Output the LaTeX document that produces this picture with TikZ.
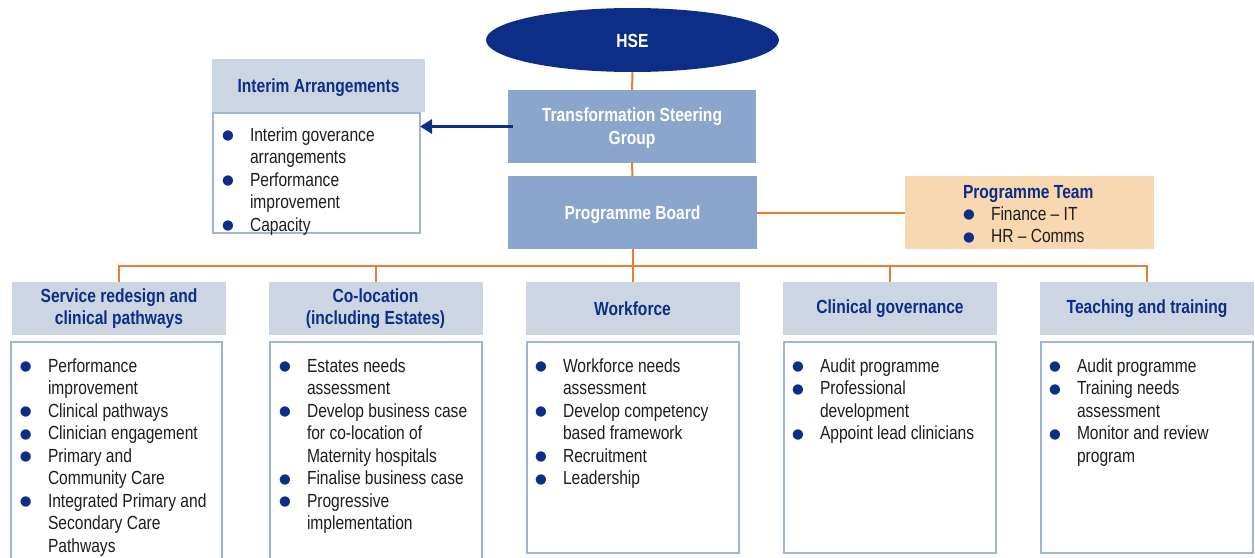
\documentclass[tikz,border=0pt]{standalone}
\usepackage{fontspec}
\setmainfont{Liberation Sans}[FakeStretch=0.82]
\newfontfamily\symf{DejaVu Sans}
\usetikzlibrary{arrows.meta,shapes.geometric}
\definecolor{navy}{RGB}{12,46,135}
\definecolor{hdrfill}{RGB}{204,214,227}
\definecolor{midblue}{RGB}{138,166,204}
\definecolor{peach}{RGB}{248,216,176}
\definecolor{bordblue}{RGB}{160,182,216}
\definecolor{orng}{RGB}{237,125,49}
\definecolor{txt}{RGB}{30,30,30}
\newcommand\bul{\makebox[26pt][l]{\hspace*{-2pt}\textcolor{navy}{\raisebox{1.5pt}{\symf\fontsize{13.5}{13.5}\selectfont ●}}}}
\tikzset{
  base/.style={font=\fontsize{19}{22.5}\selectfont, inner sep=0pt, outer sep=0pt},
  hdr/.style={base, rectangle, fill=hdrfill, minimum width=214pt, minimum height=53pt, text=navy, font=\fontsize{19}{22.5}\selectfont\bfseries, align=center},
  darkbox/.style={base, rectangle, fill=midblue, minimum width=249pt, minimum height=73pt},
  wtext/.style={base, text=white, font=\fontsize{19}{22.5}\selectfont\bfseries, align=center},
  listbox/.style={base, rectangle, draw=bordblue, line width=1.5pt, fill=white},
  lst/.style={base, anchor=base west, text=txt},
  con/.style={draw=orng, line width=2pt},
}
\begin{document}
\begin{tikzpicture}[x=1pt,y=-1pt]
\useasboundingbox (0,0) rectangle (1255,557);
\clip (0,0) rectangle (1255,557);
% top part
\node[base, ellipse, fill=navy, minimum width=293pt, minimum height=64pt] (hse) at (632.5,40) {};
\node[wtext] (hset) at (632.5,41) {HSE};
\node[hdr, minimum width=213pt] (ihdr) at (318.5,85.5) {};
\node[base, text=navy, font=\fontsize{19}{22.5}\selectfont\bfseries] (ihdrt) at (318.5,87.5) {Interim Arrangements};
\node[listbox, minimum width=207pt, minimum height=120pt] (ibox) at (316.5,173) {};
\node[darkbox, minimum width=248pt] (tsg) at (632,126.5) {};
\node[wtext] (tsgt) at (632,128) {Transformation Steering\\Group};
\node[darkbox] (pb) at (632.5,212.5) {};
\node[wtext] (pbt) at (632.5,214.5) {Programme Board};
\node[base, rectangle, fill=peach, minimum width=249pt, minimum height=73pt] (team) at (1029.5,212.5) {};
% headers
\node[hdr] (h1) at (119,308.5) {Service redesign and\\clinical pathways};
\node[hdr] (h2) at (375.5,308.5) {Co-location\\(including Estates)};
\node[hdr] (h3) at (632.5,308.5) {Workforce};
\node[hdr] (h4) at (890,308.5) {Clinical governance};
\node[hdr] (h5) at (1147,308.5) {Teaching and training};
% list boxes
\node[listbox, minimum width=211pt, minimum height=223pt] (b1) at (116.5,453.5) {};
\node[listbox, minimum width=212pt, minimum height=223pt] (b2) at (376,453.5) {};
\node[listbox, minimum width=212pt, minimum height=211pt] (b3) at (633,447.5) {};
\node[listbox, minimum width=212pt, minimum height=211pt] (b4) at (890,447.5) {};
\node[listbox, minimum width=212pt, minimum height=211pt] (b5) at (1147,447.5) {};
% connectors
\coordinate (bus) at (0,266);
\draw[con] (hse.south) -- (tsg.north);
\draw[con] (tsg.south) -- (pb.north);
\draw[con] (pb.east) -- (team.west);
\draw[con] (pb.south) -- (pb.south |- bus);
\draw[con] (h1.north) -- (h1.north |- bus) -- (h5.north |- bus) -- (h5.north);
\draw[con] (h2.north) -- (h2.north |- bus);
\draw[con] (h3.north) -- (h3.north |- bus);
\draw[con] (h4.north) -- (h4.north |- bus);
\draw[draw=navy, line width=3pt, -{Triangle[length=12pt,width=14pt]}] ([xshift=5pt]tsg.west) -- (ibox.east |- tsg.west);
% texts
\node[lst] (it) at (224,141) {\begin{tabular}[t]{@{}l@{}l@{}}
\bul & Interim goverance\\ & arrangements\\ \bul & Performance\\ & improvement\\ \bul & Capacity
\end{tabular}};
\node[lst, text=navy, font=\fontsize{19}{22.5}\selectfont\bfseries] (tt) at (963,198) {Programme Team};
\node[lst] (tl) at (965,220) {\begin{tabular}[t]{@{}l@{}l@{}}
\bul & Finance -- IT\\ \bul & HR -- Comms
\end{tabular}};
\node[lst] (l1) at (22,372) {\begin{tabular}[t]{@{}l@{}l@{}}
\bul & Performance\\ & improvement\\ \bul & Clinical pathways\\ \bul & Clinician engagement\\
\bul & Primary and\\ & Community Care\\ \bul & Integrated Primary and\\ & Secondary Care\\ & Pathways
\end{tabular}};
\node[lst] (l2) at (281,372) {\begin{tabular}[t]{@{}l@{}l@{}}
\bul & Estates needs\\ & assessment\\ \bul & Develop business case\\ & for co-location of\\ & Maternity hospitals\\
\bul & Finalise business case\\ \bul & Progressive\\ & implementation
\end{tabular}};
\node[lst] (l3) at (537,372) {\begin{tabular}[t]{@{}l@{}l@{}}
\bul & Workforce needs\\ & assessment\\ \bul & Develop competency\\ & based framework\\ \bul & Recruitment\\ \bul & Leadership
\end{tabular}};
\node[lst] (l4) at (794,372) {\begin{tabular}[t]{@{}l@{}l@{}}
\bul & Audit programme\\ \bul & Professional\\ & development\\ \bul & Appoint lead clinicians
\end{tabular}};
\node[lst] (l5) at (1051,372) {\begin{tabular}[t]{@{}l@{}l@{}}
\bul & Audit programme\\ \bul & Training needs\\ & assessment\\ \bul & Monitor and review\\ & program
\end{tabular}};
\end{tikzpicture}
\end{document}
